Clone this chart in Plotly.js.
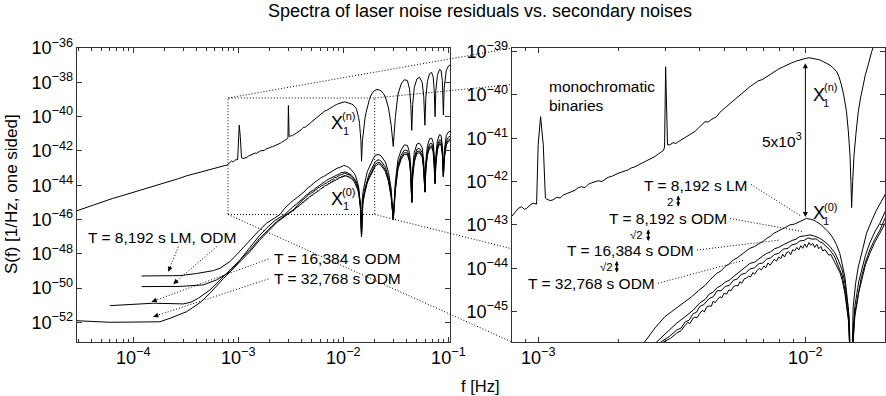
<!DOCTYPE html>
<html><head><meta charset="utf-8">
<script src="https://cdn.plot.ly/plotly-3.0.1.min.js"></script>
<style>html,body{margin:0;padding:0;background:#fff}#chart{width:886px;height:396px}</style>
</head><body><div id="chart"></div>
<script>
// ---- data: [log10 f (Hz), log10 S(f)] ----
const xnNoise = [
[-4.536,-45.49],[-4.45,-45.30],[-4.37,-45.12],[-4.286,-44.95],[-4.20,-44.78],[-4.10,-44.60],[-3.968,-44.36],[-3.85,-44.16],[-3.75,-43.97],[-3.65,-43.78],[-3.57,-43.62],[-3.491,-43.45],[-3.41,-43.32],[-3.333,-43.20],[-3.25,-43.06],[-3.174,-42.94],[-3.14,-42.86],[-3.11,-42.80],[-3.10,-42.81],
[-3.085,-42.70],[-3.075,-42.62],[-3.062,-42.58],[-3.052,-42.64],[-3.043,-42.62],[-3.03,-42.54],[-3.019,-42.50],[-3.006,-42.52],
[-3.0,-41.15],[-2.991,-40.50],[-2.981,-41.15],[-2.973,-42.38],
[-2.969,-42.40],[-2.955,-42.44],[-2.944,-42.42],[-2.93,-42.36],[-2.918,-42.38],[-2.906,-42.31],[-2.89,-42.27],[-2.875,-42.23],[-2.862,-42.20],[-2.85,-42.14],[-2.838,-42.12],[-2.825,-42.14],[-2.812,-42.06],[-2.80,-42.03],[-2.788,-42.00],[-2.775,-41.98],[-2.762,-42.00],[-2.75,-41.96],[-2.738,-41.90],[-2.725,-41.88],[-2.713,-41.84],[-2.701,-41.81],[-2.688,-41.78],[-2.676,-41.76],[-2.663,-41.73],[-2.65,-41.68],[-2.638,-41.66],[-2.626,-41.62],[-2.613,-41.58],[-2.60,-41.55],[-2.588,-41.50],[-2.576,-41.46],[-2.563,-41.42],[-2.55,-41.36],[-2.538,-41.31],[-2.531,-41.28],
[-2.527,-41.2],[-2.523,-39.35],[-2.516,-41.15],
[-2.507,-41.15],[-2.495,-41.10],[-2.485,-41.12],[-2.476,-41.08],[-2.465,-41.04],[-2.452,-40.98],[-2.44,-40.94],[-2.426,-40.88],[-2.413,-40.84],[-2.40,-40.76],[-2.388,-40.68],[-2.376,-40.62],[-2.363,-40.62],[-2.35,-40.56],[-2.332,-40.50],[-2.32,-40.40],[-2.305,-40.32],[-2.29,-40.24],[-2.27,-40.12],[-2.255,-40.06],[-2.24,-39.96],[-2.225,-39.90],[-2.208,-39.81],[-2.192,-39.74],[-2.178,-39.68],[-2.16,-39.64],[-2.145,-39.58],[-2.13,-39.50],[-2.115,-39.46],[-2.10,-39.40],[-2.083,-39.35],[-2.068,-39.30],[-2.052,-39.26],[-2.036,-39.22],[-2.021,-39.19],[-2.008,-39.16],[-1.996,-39.15],[-1.985,-39.14],[-1.972,-39.16],[-1.958,-39.17],[-1.946,-39.19],[-1.933,-39.23],[-1.92,-39.27],[-1.908,-39.31],[-1.895,-39.38],[-1.883,-39.46],[-1.874,-39.58],[-1.865,-39.77],[-1.855,-40.05],[-1.846,-40.39],[-1.839,-40.85],[-1.833,-41.39],[-1.829,-42.10],[-1.827,-42.60],[-1.823,-42.00],[-1.818,-41.39],[-1.81,-40.85],[-1.802,-40.39],[-1.793,-40.05],[-1.784,-39.77],[-1.775,-39.52],[-1.765,-39.31],[-1.752,-39.00],
[-1.74,-38.80],[-1.72,-38.58],[-1.70,-38.47],[-1.68,-38.42],[-1.66,-38.44],[-1.64,-38.50],[-1.62,-38.65],[-1.60,-38.85],[-1.57,-39.5],[-1.545,-40.5],[-1.525,-41.74],[-1.505,-40.0],[-1.48,-38.7],[-1.45,-38.1],[-1.42,-37.85],[-1.39,-37.9],[-1.37,-38.4],[-1.358,-39.3],[-1.349,-40.8],[-1.34,-39.3],[-1.325,-38.3],[-1.30,-37.8],[-1.275,-37.7],[-1.25,-38.0],[-1.235,-38.8],[-1.224,-40.5],[-1.215,-38.9],[-1.20,-37.95],[-1.18,-37.5],[-1.16,-37.42],[-1.145,-37.7],[-1.135,-38.5],[-1.127,-40.0],[-1.12,-38.5],[-1.105,-37.6],[-1.085,-37.25],[-1.07,-37.3],[-1.058,-37.9],[-1.048,-39.9],[-1.04,-38.3],[-1.02,-37.3],[-1.0,-37.05],[-0.985,-37.0]
];
const lm8192 = [
[-3.92,-49.29],[-3.75,-49.30],[-3.555,-49.27],[-3.40,-49.15],[-3.238,-48.98],[-3.174,-48.84],[-3.079,-48.45],[-3.0,-47.95],[-2.889,-47.19],[-2.80,-46.62],[-2.73,-46.21],[-2.66,-45.92],[-2.601,-45.70],[-2.563,-45.38],[-2.526,-45.12],[-2.50,-45.00],[-2.476,-44.89],[-2.45,-44.78],[-2.426,-44.66],[-2.40,-44.52],[-2.376,-44.40],[-2.355,-44.26],[-2.332,-44.12],[-2.315,-44.06],[-2.30,-43.96],[-2.285,-43.90],[-2.27,-43.81],[-2.255,-43.76],[-2.24,-43.68],[-2.225,-43.62],[-2.208,-43.54],[-2.19,-43.50],[-2.17,-43.42],[-2.158,-43.38],[-2.145,-43.31],[-2.13,-43.26],[-2.12,-43.20],[-2.108,-43.17],[-2.095,-43.12],[-2.075,-43.06],[-2.058,-43.00],[-2.04,-42.98],[-2.021,-42.93],[-2.008,-42.88],[-1.996,-42.85],[-1.98,-42.87],[-1.968,-42.89],[-1.958,-42.93],[-1.94,-43.00],[-1.921,-43.12],[-1.908,-43.20],[-1.896,-43.31],[-1.884,-43.45],[-1.871,-43.66],[-1.862,-43.90],[-1.852,-44.20],[-1.84,-44.89],[-1.833,-45.70],[-1.827,-46.80],[-1.824,-45.70],[-1.821,-44.89],[-1.812,-44.35],[-1.802,-43.97],[-1.785,-43.55],[-1.771,-43.19],[-1.75,-42.88],[-1.734,-42.66],[-1.715,-42.45],[-1.699,-42.27],
[-1.68,-42.22],[-1.66,-42.22],[-1.64,-42.30],[-1.60,-42.65],[-1.57,-43.25],[-1.545,-44.2],[-1.525,-45.9],[-1.505,-43.8],[-1.48,-42.5],[-1.45,-41.95],[-1.42,-41.65],[-1.39,-41.68],[-1.37,-42.1],[-1.358,-43.0],[-1.349,-44.95],[-1.34,-43.0],[-1.325,-42.1],[-1.30,-41.6],[-1.275,-41.55],[-1.25,-41.8],[-1.235,-42.6],[-1.224,-44.36],[-1.215,-42.6],[-1.20,-41.7],[-1.18,-41.3],[-1.16,-41.25],[-1.145,-41.5],[-1.135,-42.3],[-1.127,-43.8],[-1.12,-42.3],[-1.105,-41.4],[-1.085,-41.05],[-1.07,-41.1],[-1.058,-41.7],[-1.048,-43.4],[-1.04,-42.0],[-1.02,-41.1],[-1.0,-40.9],[-0.985,-40.85]
];
const odm8192 = [
[-3.92,-49.91],[-3.75,-49.92],[-3.555,-49.90],[-3.333,-49.81],[-3.206,-49.52],[-3.079,-49.05],[-3.0,-48.50],[-2.889,-47.62],[-2.80,-46.95],[-2.73,-46.50],[-2.65,-46.05],[-2.556,-45.70],[-2.52,-45.48],[-2.482,-45.27],[-2.45,-45.12],[-2.42,-44.97],[-2.395,-44.80],[-2.375,-44.72],[-2.36,-44.60],[-2.345,-44.55],[-2.33,-44.45],[-2.315,-44.40],[-2.30,-44.32],[-2.285,-44.28],[-2.27,-44.20],[-2.255,-44.13],[-2.24,-44.04],[-2.225,-43.99],[-2.208,-43.89],[-2.19,-43.86],[-2.175,-43.78],[-2.16,-43.72],[-2.145,-43.66],[-2.13,-43.62],[-2.115,-43.55],[-2.10,-43.52],[-2.083,-43.46],[-2.065,-43.40],[-2.05,-43.36],[-2.035,-43.33],[-2.021,-43.27],[-2.0,-43.25],[-1.983,-43.23],[-1.965,-43.26],[-1.946,-43.31],[-1.925,-43.40],[-1.908,-43.50],[-1.89,-43.64],[-1.877,-43.81],[-1.862,-44.05],[-1.852,-44.35],[-1.836,-45.12],[-1.827,-47.00],[-1.822,-45.50],[-1.815,-44.89],[-1.80,-44.30],[-1.79,-44.04],[-1.775,-43.70],[-1.759,-43.42],[-1.74,-43.16],[-1.721,-42.96],[-1.699,-42.66],
[-1.68,-42.55],[-1.66,-42.52],[-1.64,-42.60],[-1.60,-42.95],[-1.57,-43.55],[-1.545,-44.5],[-1.525,-46.0],[-1.505,-44.1],[-1.48,-42.8],[-1.45,-42.25],[-1.42,-41.95],[-1.39,-41.98],[-1.37,-42.4],[-1.358,-43.3],[-1.349,-45.0],[-1.34,-43.3],[-1.325,-42.4],[-1.30,-41.9],[-1.275,-41.85],[-1.25,-42.1],[-1.235,-42.9],[-1.224,-44.4],[-1.215,-42.9],[-1.20,-42.0],[-1.18,-41.6],[-1.16,-41.55],[-1.145,-41.8],[-1.135,-42.6],[-1.127,-43.9],[-1.12,-42.6],[-1.105,-41.7],[-1.085,-41.35],[-1.07,-41.4],[-1.058,-42.0],[-1.048,-43.5],[-1.04,-42.3],[-1.02,-41.4],[-1.0,-41.2],[-0.985,-41.15]
];
const odm16384 = [
[-4.222,-51.02],[-4.0,-50.95],[-3.81,-50.88],[-3.65,-50.90],[-3.524,-50.92],[-3.45,-50.82],[-3.381,-50.59],[-3.27,-50.11],[-3.143,-49.33],[-3.015,-48.55],[-2.889,-47.77],[-2.80,-47.12],[-2.73,-46.70],[-2.64,-46.15],[-2.54,-45.70],[-2.51,-45.58],[-2.482,-45.43],[-2.465,-45.38],[-2.45,-45.24],[-2.435,-45.20],[-2.42,-45.05],[-2.408,-45.02],[-2.395,-44.88],[-2.38,-44.84],[-2.36,-44.70],[-2.345,-44.66],[-2.33,-44.52],[-2.315,-44.52],[-2.30,-44.42],[-2.285,-44.40],[-2.27,-44.28],[-2.255,-44.25],[-2.24,-44.14],[-2.225,-44.12],[-2.208,-44.02],[-2.19,-43.99],[-2.175,-43.90],[-2.16,-43.88],[-2.145,-43.79],[-2.13,-43.76],[-2.115,-43.68],[-2.10,-43.66],[-2.083,-43.56],[-2.065,-43.54],[-2.05,-43.46],[-2.035,-43.44],[-2.021,-43.37],[-2.005,-43.36],[-1.99,-43.30],[-1.975,-43.33],[-1.96,-43.32],[-1.946,-43.39],[-1.935,-43.42],[-1.925,-43.48],[-1.908,-43.58],[-1.89,-43.74],[-1.877,-43.93],[-1.862,-44.18],[-1.852,-44.50],[-1.838,-45.20],[-1.827,-47.00],[-1.822,-45.70],[-1.815,-45.04],[-1.80,-44.50],[-1.79,-44.20],[-1.775,-43.86],[-1.759,-43.58],[-1.74,-43.33],[-1.721,-43.12],[-1.699,-42.81],
[-1.68,-42.70],[-1.66,-42.66],[-1.64,-42.75],[-1.60,-43.1],[-1.57,-43.7],[-1.545,-44.6],[-1.525,-46.0],[-1.505,-44.2],[-1.48,-42.95],[-1.45,-42.4],[-1.42,-42.1],[-1.39,-42.12],[-1.37,-42.55],[-1.358,-43.4],[-1.349,-45.0],[-1.34,-43.4],[-1.325,-42.55],[-1.30,-42.05],[-1.275,-42.0],[-1.25,-42.25],[-1.235,-43.0],[-1.224,-44.4],[-1.215,-43.0],[-1.20,-42.15],[-1.18,-41.75],[-1.16,-41.7],[-1.145,-41.95],[-1.135,-42.7],[-1.127,-43.9],[-1.12,-42.7],[-1.105,-41.85],[-1.085,-41.5],[-1.07,-41.55],[-1.058,-42.1],[-1.048,-43.5],[-1.04,-42.4],[-1.02,-41.55],[-1.0,-41.35],[-0.985,-41.3]
];
const odm32768 = [
[-4.536,-51.90],[-4.40,-51.95],[-4.222,-51.99],[-4.0,-51.98],[-3.746,-51.96],[-3.65,-51.76],[-3.491,-51.37],[-3.365,-50.85],[-3.27,-50.30],[-3.143,-49.45],[-3.015,-48.65],[-2.889,-47.87],[-2.80,-47.22],[-2.73,-46.79],[-2.63,-46.15],[-2.53,-45.70],[-2.505,-45.62],[-2.482,-45.50],[-2.465,-45.44],
[-2.45,-45.32],[-2.44,-45.25],[-2.432,-45.28],[-2.42,-45.15],[-2.414,-45.13],[-2.405,-45.14],[-2.395,-45.04],[-2.385,-44.97],[-2.378,-45.01],[-2.37,-44.90],[-2.36,-44.87],[-2.352,-44.88],[-2.345,-44.76],[-2.338,-44.80],[-2.33,-44.73],[-2.32,-44.66],[-2.312,-44.68],[-2.305,-44.58],[-2.295,-44.60],[-2.286,-44.50],[-2.278,-44.52],[-2.27,-44.43],[-2.26,-44.40],[-2.252,-44.41],[-2.245,-44.31],[-2.238,-44.35],[-2.228,-44.24],[-2.22,-44.23],[-2.212,-44.18],[-2.205,-44.20],[-2.196,-44.10],[-2.19,-44.14],[-2.18,-44.05],[-2.172,-44.00],[-2.165,-44.04],[-2.155,-43.95],[-2.148,-43.99],[-2.14,-43.88],[-2.132,-43.93],[-2.125,-43.86],[-2.116,-43.79],[-2.108,-43.84],[-2.10,-43.74],[-2.092,-43.78],[-2.085,-43.68],[-2.078,-43.74],[-2.07,-43.64],[-2.062,-43.62],[-2.055,-43.69],[-2.047,-43.57],[-2.04,-43.60],[-2.032,-43.52],[-2.025,-43.58],[-2.017,-43.48],[-2.01,-43.54],[-2.002,-43.44],[-1.995,-43.52],[-1.987,-43.41],[-1.98,-43.47],[-1.972,-43.43],[-1.965,-43.52],[-1.957,-43.45],[-1.95,-43.55],[-1.942,-43.50],[-1.935,-43.60],[-1.927,-43.57],[-1.92,-43.62],[-1.912,-43.70],[-1.905,-43.68],[-1.897,-43.78],[-1.89,-43.84],[-1.88,-43.96],[-1.87,-44.11],
[-1.862,-44.28],[-1.852,-44.58],[-1.838,-45.25],[-1.827,-47.00],[-1.822,-45.80],[-1.815,-45.12],[-1.80,-44.55],[-1.79,-44.27],[-1.775,-43.92],[-1.759,-43.66],[-1.74,-43.40],[-1.721,-43.19],[-1.699,-42.93],
[-1.68,-42.80],[-1.66,-42.76],[-1.64,-42.85],[-1.60,-43.2],[-1.57,-43.8],[-1.545,-44.7],[-1.525,-46.0],[-1.505,-44.3],[-1.48,-43.05],[-1.45,-42.5],[-1.42,-42.2],[-1.39,-42.22],[-1.37,-42.65],[-1.358,-43.5],[-1.349,-45.0],[-1.34,-43.5],[-1.325,-42.65],[-1.30,-42.15],[-1.275,-42.1],[-1.25,-42.35],[-1.235,-43.1],[-1.224,-44.4],[-1.215,-43.1],[-1.20,-42.25],[-1.18,-41.85],[-1.16,-41.8],[-1.145,-42.05],[-1.135,-42.8],[-1.127,-43.9],[-1.12,-42.8],[-1.105,-41.95],[-1.085,-41.6],[-1.07,-41.65],[-1.058,-42.2],[-1.048,-43.5],[-1.04,-42.5],[-1.02,-41.65],[-1.0,-41.45],[-0.985,-41.4]
];
const seriesList = [xnNoise, lm8192, odm8192, odm16384, odm32768];

// ---- figure geometry ----
const FW = 886, FH = 396, M = {l:77, r:1, t:48, b:54};
const PW = FW - M.l - M.r, PH = FH - M.t - M.b;
const px = x => (x - M.l) / PW;
const py = y => 1 - (y - M.t) / PH;
const LX = {dom:[0, px(450)], rng:[-4.535, -0.985]};
const LY = {rng:[-53.14, -36]};
const RX = {dom:[px(512), 1], rng:[-3.098, -1.702]};
const RY = {rng:[-45.704, -38.915]};
const toPX = (ax, v) => ax.dom[0] + (v - ax.rng[0]) / (ax.rng[1] - ax.rng[0]) * (ax.dom[1] - ax.dom[0]);
const toPY = (ay, v) => (v - ay.rng[0]) / (ay.rng[1] - ay.rng[0]);

const FONT = 'Liberation Sans, Arial, Helvetica, sans-serif';
const p10 = v => Math.pow(10, v);

const traces = [];
seriesList.forEach(s => {
  const xs = s.map(d => p10(d[0])), ys = s.map(d => p10(d[1]));
  traces.push({x: xs, y: ys, xaxis:'x', yaxis:'y', mode:'lines', line:{color:'#000', width:1}, hoverinfo:'skip'});
  traces.push({x: xs, y: ys, xaxis:'x2', yaxis:'y2', mode:'lines', line:{color:'#000', width:1}, hoverinfo:'skip'});
});

const axBase = {type:'log', showgrid:false, zeroline:false, showline:true, linecolor:'#333', linewidth:1,
  mirror:'allticks', ticks:'inside', ticklen:5, tickcolor:'#333', exponentformat:'power',
  tickfont:{family:FONT, size:14.5, color:'#000'}};

// ---- shapes: zoom box and connectors ----
const DOT = '1px,2px';
const bx0 = toPX(LX, RX.rng[0]), bx1 = toPX(LX, RX.rng[1]);
const by0 = toPY(LY, RY.rng[0]), by1 = toPY(LY, RY.rng[1]);
const rx0 = RX.dom[0], rx1 = RX.dom[1];
const tcl = (rx0 - bx1) / (rx1 - bx1);
const shapes = [
  {type:'rect', xref:'paper', yref:'paper', x0:bx0, x1:bx1, y0:by0, y1:by1, line:{color:'#000', width:1, dash:DOT}},
  {type:'line', xref:'paper', yref:'paper', x0:bx0, y0:by1, x1:rx0, y1:1, line:{color:'#000', width:1, dash:DOT}},
  {type:'line', xref:'paper', yref:'paper', x0:bx0, y0:by0, x1:rx0, y1:0, line:{color:'#000', width:1, dash:DOT}},
  {type:'line', xref:'paper', yref:'paper', x0:bx1, y0:by1, x1:rx0, y1:by1 + tcl * (1 - by1), line:{color:'#000', width:1, dash:DOT}},
  {type:'line', xref:'paper', yref:'paper', x0:bx1, y0:by0, x1:rx0, y1:by0 + tcl * (0 - by0), line:{color:'#000', width:1, dash:DOT}}
];
// dotted leader lines (pixel positions of label ends / targets)
const leaders = [
  [[178.3,246.7],[168.3,271.7], true],
  [[216.7,246.7],[173.3,284.0], true],
  [[268.3,259.0],[151.7,301.7], true],
  [[268.3,279.0],[153.3,316.7], true],
  [[751,184.5],[801.7,216.5], false],
  [[730,218.5],[803.3,231.7], false],
  [[697,250.0],[780,240.0], false],
  [[658,283.3],[745,260.0], false]
];
const annotations = [];
leaders.forEach(([a, b, head]) => {
  shapes.push({type:'line', xref:'paper', yref:'paper', x0:px(a[0]), y0:py(a[1]), x1:px(b[0]), y1:py(b[1]), line:{color:'#000', width:1, dash:DOT}});
  if (head) {
    const dx = a[0] - b[0], dy = a[1] - b[1], n = Math.hypot(dx, dy), L = 7;
    annotations.push({xref:'paper', yref:'paper', x:px(b[0]), y:py(b[1]), ax:dx / n * L, ay:dy / n * L,
      text:'', showarrow:true, arrowhead:2, arrowsize:1, arrowwidth:1, arrowcolor:'#000', standoff:0});
  }
});
// small double arrows (2, sqrt2 ratios)
[[678.3,195.5,12.5],[648.3,229.5,13],[616.7,261,13]].forEach(([x, y, h]) => {
  annotations.push({xref:'paper', yref:'paper', x:px(x), y:py(y), ax:0, ay:h, text:'', showarrow:true,
    arrowside:'end+start', arrowhead:2, startarrowhead:2, arrowsize:0.6, startarrowsize:0.6, arrowwidth:1.4, arrowcolor:'#000', standoff:0, startstandoff:0});
});
// 5x10^3 double arrow at f = 1e-2
annotations.push({xref:'x2', yref:'y2', axref:'x2', ayref:'y2', x:-2, y:-39.27, ax:-2, ay:-42.85, text:'', showarrow:true,
  arrowside:'end+start', arrowhead:2, startarrowhead:2, arrowsize:1, startarrowsize:1, arrowwidth:1, arrowcolor:'#000', standoff:0, startstandoff:0});

const txt = (t, x, y, xa, size) => annotations.push({xref:'paper', yref:'paper', x:px(x), y:py(y), xanchor:xa, yanchor:'middle',
  text:t, showarrow:false, font:{family:FONT, size:size, color:'#000'}});
txt('T = 8,192 s LM, ODM', 86, 237.5, 'left', 15.5);
txt('T = 16,384 s ODM', 271.5, 258.5, 'left', 15.5);
txt('T = 32,768 s ODM', 271.5, 278.5, 'left', 15.5);
txt('X', 336.5, 123, 'center', 18); txt('(n)', 348.5, 115.5, 'center', 11); txt('1', 346, 131, 'center', 11);
txt('X', 336.5, 198.5, 'center', 18); txt('(0)', 348.5, 192, 'center', 11); txt('1', 346, 206, 'center', 11);
txt('monochromatic', 546.5, 86.5, 'left', 15.5);
txt('binaries', 546.5, 105, 'left', 15.5);
txt('5x10<sup>3</sup>', 760, 140, 'left', 15.5);
txt('X', 818.5, 95, 'center', 18); txt('(n)', 830, 87, 'center', 11); txt('1', 826, 103, 'center', 11);
txt('X', 818.5, 213, 'center', 18); txt('(0)', 830, 206.5, 'center', 11); txt('1', 826, 220.5, 'center', 11);
txt('T = 8,192 s LM', 749.5, 185, 'right', 15.5);
txt('2', 670, 201.7, 'center', 11.5);
txt('T = 8,192 s ODM', 728.5, 218.3, 'right', 15.5);
txt('√2', 636, 235, 'center', 11.5);
txt('T = 16,384 s ODM', 695.5, 250, 'right', 15.5);
txt('√2', 606, 266.7, 'center', 11.5);
txt('T = 32,768 s ODM', 657, 283.3, 'right', 15.5);
txt('f [Hz]', 480, 386, 'center', 16.5);
annotations.push({xref:'paper', yref:'paper', x:px(11), y:py(194), xanchor:'center', yanchor:'middle', textangle:-90,
  text:'S(f) [1/Hz, one sided]', showarrow:false, font:{family:FONT, size:17, color:'#000'}});

const layout = {
  width:FW, height:FH, margin:M, paper_bgcolor:'#fff', plot_bgcolor:'#fff', showlegend:false,
  font:{family:FONT, color:'#000'},
  title:{text:'Spectra of laser noise residuals vs. secondary noises', font:{family:FONT, size:18, color:'#000'},
    x:480/FW, xref:'container', xanchor:'center', y:1 - 11/FH, yref:'container', yanchor:'middle'},
  xaxis:Object.assign({}, axBase, {domain:LX.dom, range:LX.rng, anchor:'y', dtick:1,
    minor:{ticks:'inside', ticklen:3, dtick:'D1', tickcolor:'#333', showgrid:false}}),
  yaxis:Object.assign({}, axBase, {domain:[0,1], range:LY.rng, anchor:'x', dtick:2}),
  xaxis2:Object.assign({}, axBase, {domain:RX.dom, range:RX.rng, anchor:'y2', dtick:1,
    minor:{ticks:'inside', ticklen:3, dtick:'D1', tickcolor:'#333', showgrid:false}}),
  yaxis2:Object.assign({}, axBase, {domain:[0,1], range:RY.rng, anchor:'x2', dtick:1}),
  shapes:shapes, annotations:annotations
};
Plotly.newPlot('chart', traces, layout, {staticPlot:true, displayModeBar:false});
</script></body></html>
